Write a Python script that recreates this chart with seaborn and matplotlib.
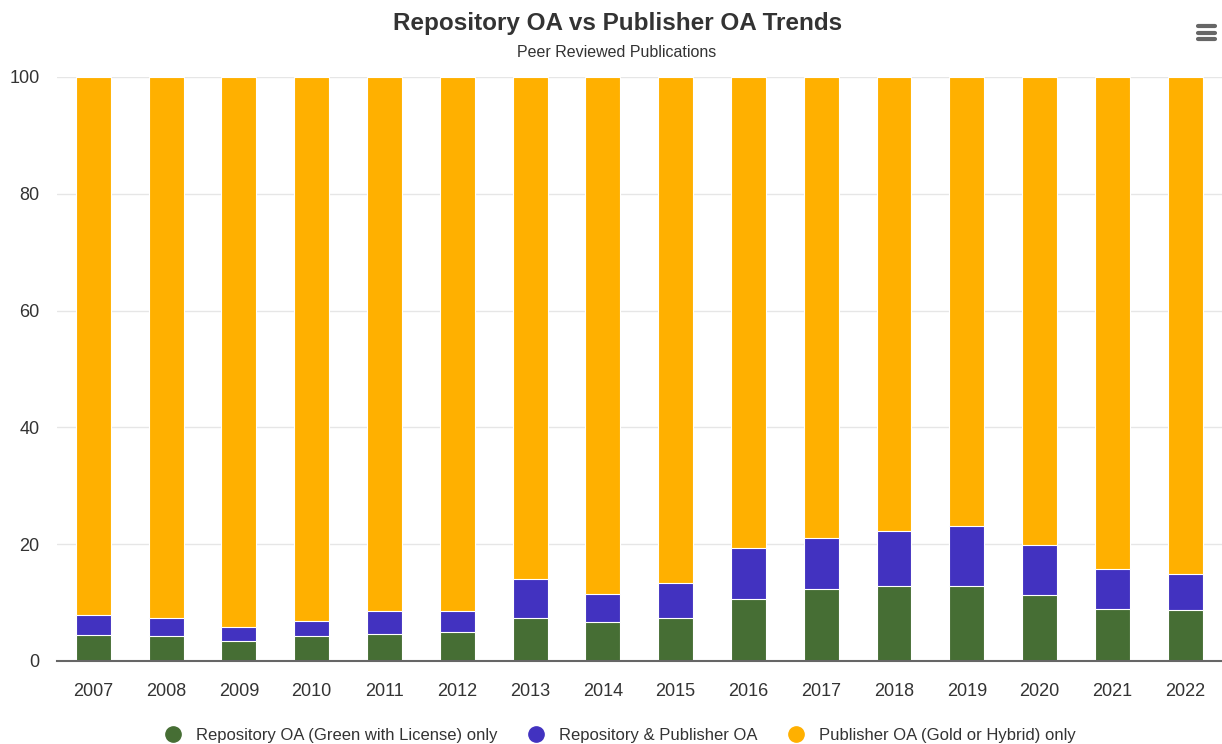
import pandas as pd
import matplotlib.pyplot as plt
import seaborn as sns
from matplotlib.lines import Line2D

years = [str(y) for y in range(2007, 2023)]
repo_only = [4.5, 4.3, 3.4, 4.3, 4.7, 5.0, 7.4, 6.6, 7.4, 10.6, 12.4, 12.8, 12.8, 11.3, 8.9, 8.7]
repo_and_pub = [3.3, 3.1, 2.5, 2.6, 3.8, 3.5, 6.6, 4.9, 5.9, 8.7, 8.7, 9.4, 10.3, 8.6, 6.9, 6.2]
pub_only = [round(100 - a - b, 1) for a, b in zip(repo_only, repo_and_pub)]

labels = ["Repository OA (Green with License) only",
          "Repository & Publisher OA",
          "Publisher OA (Gold or Hybrid) only"]
colors = ["#466e34", "#4232c0", "#ffb000"]

df = pd.DataFrame({"year": years, "green": repo_only, "both": repo_and_pub, "gold": pub_only})
df["top_both"] = df["green"] + df["both"]
df["top_gold"] = df["top_both"] + df["gold"]

sns.set_style("white")
plt.rcParams["font.family"] = ["Liberation Sans", "DejaVu Sans"]

fig = plt.figure(figsize=(12.22, 7.44), dpi=100)
ax = fig.add_axes([0.0466, 0.1116, 0.953, 0.785])

# stacked look: draw cumulative totals back to front
for col, c in zip(["top_gold", "top_both", "green"], colors[::-1]):
    sns.barplot(data=df, x="year", y=col, color=c, width=0.48, ax=ax,
                edgecolor="white", linewidth=0.8, saturation=1)

ax.set_ylim(0, 100)
ax.set_yticks(range(0, 101, 20))
ax.set_xlim(-0.5, len(years) - 0.5)
ax.grid(axis="y", color="#e6e6e6", linewidth=1)
ax.set_axisbelow(True)
for s in ["top", "right", "left"]:
    ax.spines[s].set_visible(False)
ax.spines["bottom"].set_color("#666666")
ax.spines["bottom"].set_linewidth(1.5)
ax.set_xlabel("")
ax.set_ylabel("")
ax.tick_params(axis="both", length=0, labelsize=13, labelcolor="#333333")
ax.tick_params(axis="x", pad=16)
ax.tick_params(axis="y", pad=12.5)

fig.text(0.505, 0.969, "Repository OA vs Publisher OA Trends", ha="center", va="center",
         fontsize=17.5, fontweight="bold", color="#333333")
fig.text(0.505, 0.929, "Peer Reviewed Publications", ha="center", va="center",
         fontsize=11.5, color="#333333")

# menu icon
for yy in [0.965, 0.956, 0.947]:
    fig.add_artist(Line2D([0.9805, 0.9945], [yy, yy], color="#666666", linewidth=3,
                          solid_capstyle="round", transform=fig.transFigure))

handles = [Line2D([0], [0], marker="o", linestyle="", markersize=11,
                  markerfacecolor=c, markeredgecolor=c) for c in colors]
fig.legend(handles, labels, loc="center", bbox_to_anchor=(0.504, 0.011), ncol=3,
           frameon=False, fontsize=12, labelcolor="#333333", handletextpad=0.4,
           columnspacing=1.3)

fig.savefig("out.png", dpi=100)
